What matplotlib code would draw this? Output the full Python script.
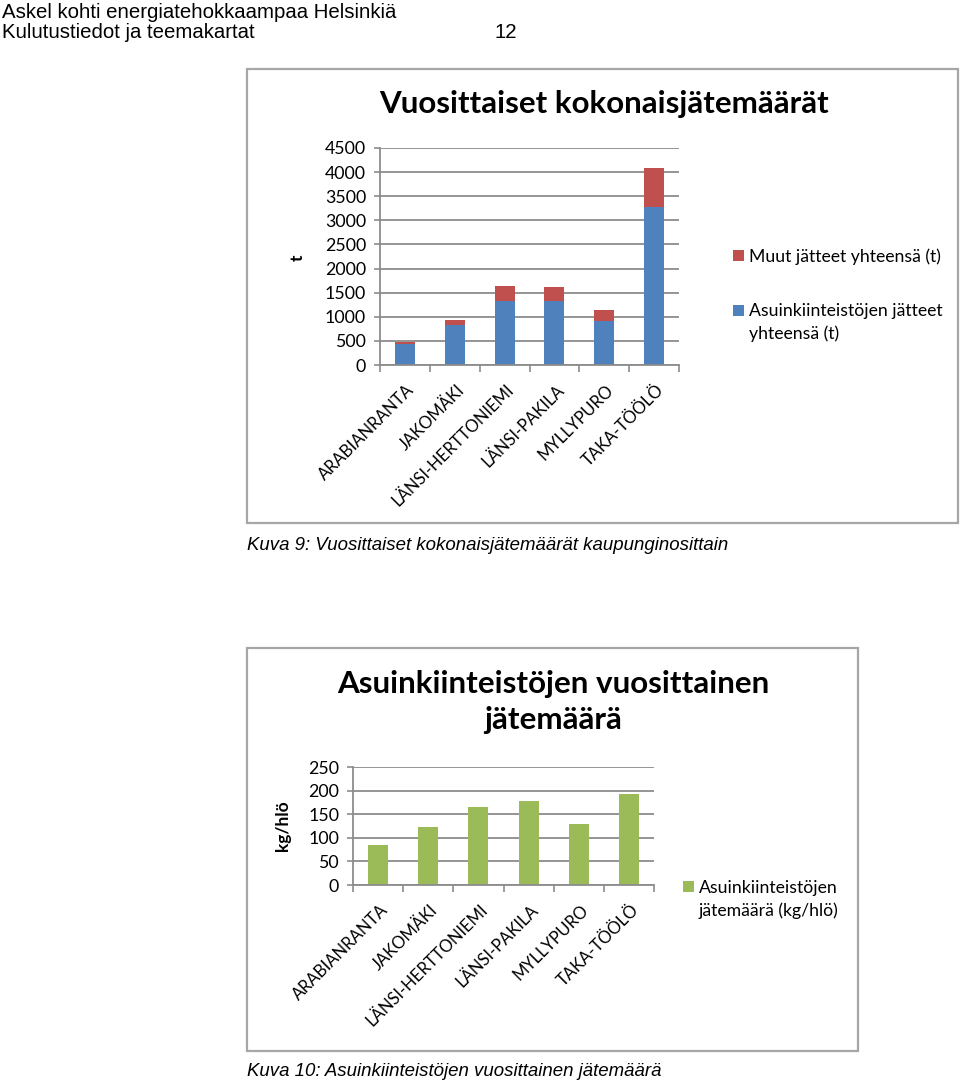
import numpy as np
import matplotlib.pyplot as plt
import matplotlib.patches as mpatches
import matplotlib.transforms as mtransforms

# data
areas = ['ARABIANRANTA', 'JAKOMÄKI', 'LÄNSI-HERTTONIEMI', 'LÄNSI-PAKILA',
         'MYLLYPURO', 'TAKA-TÖÖLÖ']
asuin_t = [440, 820, 1320, 1335, 910, 3285]     # Asuinkiinteistöjen jätteet yhteensä (t)
muut_t = [30, 110, 325, 275, 230, 810]          # Muut jätteet yhteensä (t)
kg_hlo = [84, 122, 165, 179, 130, 193]          # Asuinkiinteistöjen jätemäärä (kg/hlö)

W, H = 960, 1085
BLUE, RED, GREEN = '#4f81bd', '#c0504d', '#9bbb59'
GRID = '#8c8c8c'
CHART_FONT = ['Lato', 'DejaVu Sans']
PAGE_FONT = ['Liberation Sans', 'DejaVu Sans']
LEG_SIZE = 12.7

fig = plt.figure(figsize=(W / 100, H / 100), dpi=100)


def fx(x):
    return x / W


def fy(y):
    return 1 - y / H


def box(x0, y0, x1, y1):
    fig.patches.append(mpatches.Rectangle((fx(x0), fy(y1)), fx(x1) - fx(x0), fy(y0) - fy(y1),
                                          transform=fig.transFigure, fill=False,
                                          edgecolor='#a6a6a6', lw=1.6))


def style_axes(ax, ymax, ystep):
    ax.set_xlim(-0.5, len(areas) - 0.5)
    ax.set_ylim(0, ymax)
    ax.set_yticks(np.arange(0, ymax + 1, ystep))
    ax.yaxis.grid(True, color=GRID, lw=1.3)
    ax.set_axisbelow(True)
    for s in ['top', 'right']:
        ax.spines[s].set_visible(False)
    for s in ['left', 'bottom']:
        ax.spines[s].set_color(GRID)
        ax.spines[s].set_linewidth(1.3)
    ax.tick_params(axis='y', length=4, color=GRID, width=1.2, labelsize=12.8, pad=6)
    for t in ax.get_yticklabels():
        t.set_family(CHART_FONT)
    ax.set_xticks(np.arange(len(areas)))
    ax.set_xticks(np.arange(-0.5, len(areas)), minor=True)
    ax.tick_params(axis='x', which='major', length=0, pad=16)
    ax.tick_params(axis='x', which='minor', length=5, color=GRID, width=1.2)
    ax.set_xticklabels(areas, rotation=45, ha='right', va='center',
                       rotation_mode='anchor', fontsize=12, family=CHART_FONT)
    off = mtransforms.ScaledTranslation(7 / 100, 0, fig.dpi_scale_trans)
    for t in ax.get_xticklabels():
        t.set_transform(t.get_transform() + off)


# page header
fig.text(fx(2), fy(12), 'Askel kohti energiatehokkaampaa Helsinkiä', fontsize=14.7,
         family=PAGE_FONT, va='center', ha='left')
fig.text(fx(2), fy(33), 'Kulutustiedot ja teemakartat', fontsize=14.7,
         family=PAGE_FONT, va='center', ha='left')
fig.text(fx(517), fy(33), '12', fontsize=14.7, family=PAGE_FONT, va='center', ha='right')

# ---- chart 1 ----
box(247, 69, 958, 523)
ax1 = fig.add_axes([fx(380), fy(365), fx(679) - fx(380), fy(148) - fy(365)])
x = np.arange(len(areas))
b1 = ax1.bar(x, asuin_t, width=0.4, color=BLUE)
b2 = ax1.bar(x, muut_t, width=0.4, bottom=asuin_t, color=RED)
style_axes(ax1, 4500, 500)
fig.text(fx(604), fy(104), 'Vuosittaiset kokonaisjätemäärät', fontsize=22.5, weight='bold',
         family=CHART_FONT, ha='center', va='center')
fig.text(fx(298), fy(258), 't', fontsize=12.5, weight='bold', family=CHART_FONT,
         rotation=90, ha='center', va='center')
leg1 = fig.legend([b2, b1], ['Muut jätteet yhteensä (t)', 'Asuinkiinteistöjen jätteet'],
                  loc='upper left', bbox_to_anchor=(fx(733), fy(248)), frameon=False,
                  handlelength=0.6, handleheight=0.6, handletextpad=0.3, labelspacing=2.2,
                  borderaxespad=0, borderpad=0, prop={'family': CHART_FONT, 'size': LEG_SIZE})
fig.text(fx(247), fy(546), 'Kuva 9: Vuosittaiset kokonaisjätemäärät kaupunginosittain',
         fontsize=13.4, style='italic', family=PAGE_FONT, va='center', ha='left')

# ---- chart 2 ----
box(247, 648, 858, 1051)
ax2 = fig.add_axes([fx(353), fy(885), fx(654) - fx(353), fy(767) - fy(885)])
g = ax2.bar(x, kg_hlo, width=0.4, color=GREEN)
style_axes(ax2, 250, 50)
fig.text(fx(553), fy(702), 'Asuinkiinteistöjen vuosittainen\njätemäärä', fontsize=22.6,
         weight='bold', family=CHART_FONT, ha='center', va='center', linespacing=1.35)
fig.text(fx(283), fy(826), 'kg/hlö', fontsize=12.5, weight='bold', family=CHART_FONT,
         rotation=90, ha='center', va='center')
leg2 = fig.legend([g], ['Asuinkiinteistöjen'],
                  loc='upper left', bbox_to_anchor=(fx(683), fy(880)), frameon=False,
                  handlelength=0.6, handleheight=0.6, handletextpad=0.3,
                  borderaxespad=0, borderpad=0, prop={'family': CHART_FONT, 'size': LEG_SIZE})
fig.text(fx(247), fy(1072), 'Kuva 10: Asuinkiinteistöjen vuosittainen jätemäärä',
         fontsize=13.4, style='italic', family=PAGE_FONT, va='center', ha='left')

# second lines of the legend entries, lined up under the first line (Excel wraps them)
fig.canvas.draw()
for leg, idx, more in [(leg1, 1, 'yhteensä (t)'), (leg2, 0, 'jätemäärä (kg/hlö)')]:
    bb = leg.get_texts()[idx].get_window_extent().transformed(fig.transFigure.inverted())
    fig.text(bb.x0, bb.y0 - 23 / H, more, fontsize=LEG_SIZE, family=CHART_FONT,
             ha='left', va='bottom')

fig.savefig('out.png', dpi=100)
